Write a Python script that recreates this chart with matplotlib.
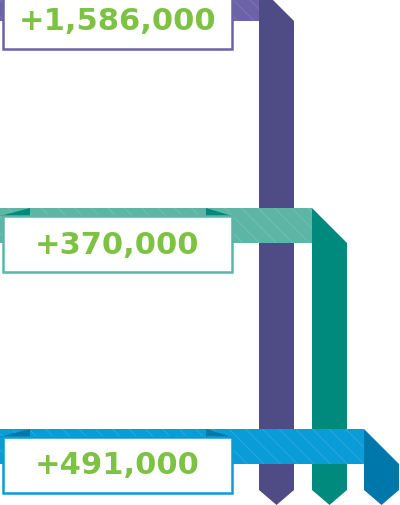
import matplotlib
matplotlib.use("Agg")
import matplotlib.pyplot as plt
from matplotlib.patches import Polygon, Rectangle

# values shown in the three boxes, top to bottom
labels = ["+1,586,000", "+370,000", "+491,000"]
band_colors = ["#6B62A8", "#5DB5A6", "#0A9BD9"]
column_colors = ["#4F4B84", "#008A7E", "#0077AA"]
text_color = "#7DC242"

# geometry in pixels (y goes down)
band_top = [-14, 208, 429]
band_h = 35
col_left = [259, 312, 364]
col_w = 35
col_bottom = 490
tip = 505 - 490
box_left, box_right = 3, 232
box_top = [-7, 216, 437]
box_h = 56

plt.rcParams["hatch.linewidth"] = 0.6

fig = plt.figure(figsize=(4.0, 5.05), dpi=100)
ax = fig.add_axes([0, 0, 1, 1])
ax.set_xlim(0, 400)
ax.set_ylim(505, 0)
ax.axis("off")

for i in range(3):
    x0 = col_left[i]
    y0 = band_top[i]
    # vertical column with folded top corner and arrow bottom
    col = Polygon([(x0, y0), (x0 + col_w, y0 + band_h),
                   (x0 + col_w, col_bottom), (x0 + col_w / 2, col_bottom + tip),
                   (x0, col_bottom)], closed=True, facecolor=column_colors[i],
                  edgecolor="none", zorder=2 + 3 * i)
    ax.add_patch(col)
    # horizontal hatched band
    ax.add_patch(Rectangle((0, y0), x0, band_h, facecolor=band_colors[i],
                           edgecolor="none", zorder=3 + 3 * i))
    ax.add_patch(Rectangle((0, y0), x0, band_h, fill=False, hatch="\\\\",
                           edgecolor=(1, 1, 1, 0.15), linewidth=0, zorder=3 + 3 * i))
    # shadow triangles beside the box top
    if i > 0:
        bt = box_top[i]
        ax.add_patch(Polygon([(0, bt), (30, y0), (30, bt)], closed=True,
                             facecolor=column_colors[i], edgecolor="none", zorder=3 + 3 * i))
        ax.add_patch(Polygon([(206, y0), (box_right, bt), (206, bt)], closed=True,
                             facecolor=column_colors[i], edgecolor="none", zorder=3 + 3 * i))
    # label box
    ax.add_patch(Rectangle((box_left, box_top[i]), box_right - box_left, box_h,
                           facecolor="white", edgecolor=band_colors[i], linewidth=1.8,
                           zorder=4 + 3 * i))
    ax.text((box_left + box_right) / 2, box_top[i] + box_h / 2 + 1, labels[i],
            color=text_color, fontsize=22, fontweight="heavy", family="DejaVu Sans",
            ha="center", va="center", zorder=5 + 3 * i)

fig.savefig("out.png", dpi=100)
